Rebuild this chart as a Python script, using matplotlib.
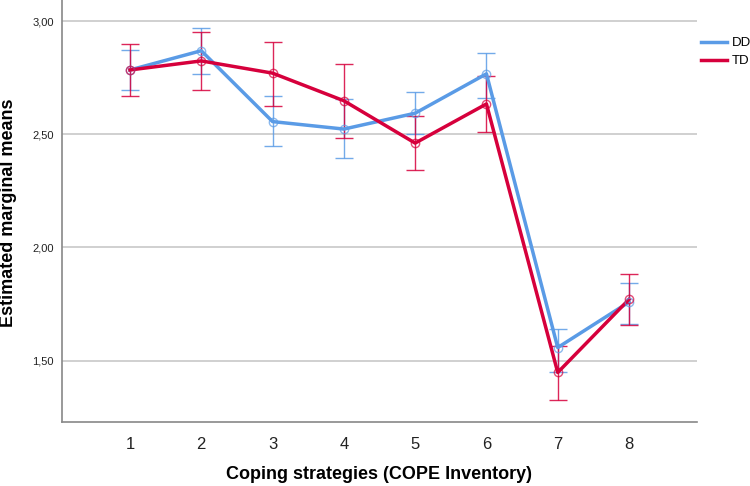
import matplotlib
matplotlib.use("Agg")
import matplotlib.pyplot as plt
from matplotlib.ticker import FuncFormatter

plt.rcParams['font.family'] = ['Liberation Sans', 'DejaVu Sans']

strategies = [1, 2, 3, 4, 5, 6, 7, 8]

dd_mean = [2.784, 2.869, 2.556, 2.523, 2.593, 2.767, 1.558, 1.759]
dd_low = [2.696, 2.767, 2.449, 2.395, 2.501, 2.661, 1.452, 1.661]
dd_high = [2.872, 2.969, 2.667, 2.655, 2.687, 2.860, 1.642, 1.844]

td_mean = [2.784, 2.824, 2.770, 2.648, 2.461, 2.634, 1.448, 1.771]
td_low = [2.670, 2.696, 2.626, 2.483, 2.344, 2.508, 1.326, 1.658]
td_high = [2.899, 2.952, 2.907, 2.812, 2.580, 2.759, 1.565, 1.884]

blue = '#5a9be6'
red = '#d6003c'

fig = plt.figure(figsize=(7.5, 4.86), dpi=100)
ax = fig.add_axes([0.083, 0.132, 0.846, 0.868])

for mean, lo, hi, col, lab in [(dd_mean, dd_low, dd_high, blue, 'DD'),
                               (td_mean, td_low, td_high, red, 'TD')]:
    yerr = [[m - l for m, l in zip(mean, lo)], [h - m for m, h in zip(mean, hi)]]
    ax.errorbar(strategies, mean, yerr=yerr, fmt='none', ecolor=col,
                elinewidth=1.0, capsize=6.5, capthick=1.0, alpha=0.85, zorder=3)
    ax.plot(strategies, mean, color=col, lw=2.5, label=lab, zorder=4)
    ax.plot(strategies, mean, 'o', ms=6, mfc='none', mec=col, mew=1.0,
            alpha=0.7, zorder=5)

ax.set_xlim(0.05, 8.95)
ax.set_ylim(1.23, 3.093)
ax.set_xticks(strategies)
ax.set_yticks([1.5, 2.0, 2.5, 3.0])
ax.yaxis.set_major_formatter(FuncFormatter(lambda v, p: f'{v:.2f}'.replace('.', ',')))
ax.tick_params(length=0, colors='#222222')
ax.tick_params(axis='x', labelsize=12, pad=11)
ax.tick_params(axis='y', labelsize=8, pad=6)
ax.grid(axis='y', color='#c8c8c8', lw=1.2)
ax.set_axisbelow(True)
for s in ['top', 'right']:
    ax.spines[s].set_visible(False)
for s in ['left', 'bottom']:
    ax.spines[s].set_color('#888888')
    ax.spines[s].set_linewidth(1.2)

ax.set_xlabel('Coping strategies (COPE Inventory)', fontsize=13, fontweight='bold', labelpad=10)
fig.text(0.0115, 0.562, 'Estimated marginal means', fontsize=13, fontweight='bold',
         rotation=90, ha='center', va='center')

ax.legend(loc='upper left', bbox_to_anchor=(0.998, 0.925), frameon=False,
          fontsize=9.5, handlelength=2.0, handletextpad=0.35, borderaxespad=0,
          labelspacing=0.45)

fig.savefig('out.png', dpi=100)
